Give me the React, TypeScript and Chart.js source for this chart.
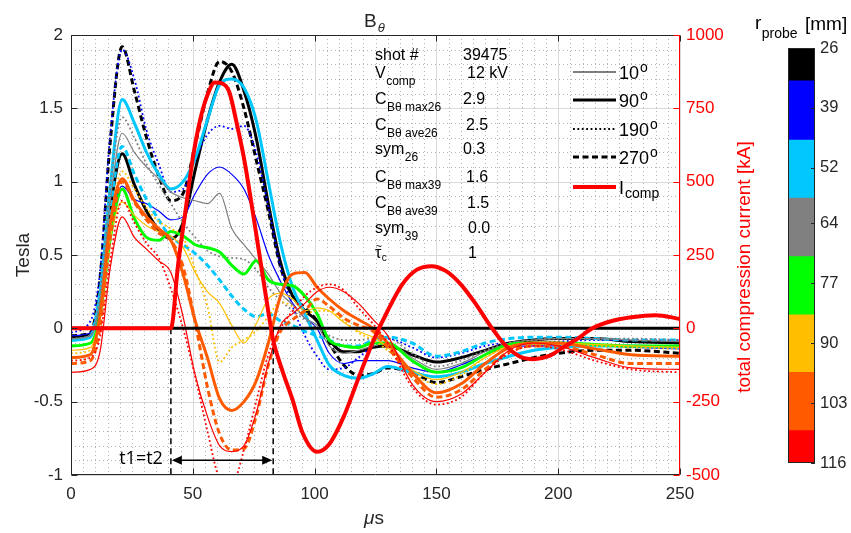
import React, { useEffect, useRef } from 'react';
import { Chart, registerables } from 'chart.js';

Chart.register(...registerables);

// ---------------- data ----------------
const T = [0, 8, 12, 16, 21, 26, 31, 36, 41, 46, 51, 56, 61, 66, 71, 76, 81, 86, 91, 96, 101, 106, 112, 118, 124, 130, 140, 150, 160, 170, 180, 190, 200, 215, 230, 250];

const K270 = [-0.05, -0.03, 0.35, 1.25, 1.92, 1.62, 1.3, 1.04, 0.87, 0.92, 1.25, 1.6, 1.82, 1.75, 1.5, 1.15, 0.8, 0.42, 0.22, 0.14, 0.05, -0.1, -0.25, -0.32, -0.31, -0.27, -0.3, -0.37, -0.33, -0.28, -0.24, -0.2, -0.17, -0.15, -0.15, -0.17];
const K90 = [-0.06, -0.04, 0.2, 0.8, 1.19, 0.98, 0.8, 0.67, 0.61, 0.72, 1.08, 1.42, 1.68, 1.8, 1.62, 1.3, 0.85, 0.45, 0.22, 0.12, 0.05, -0.08, -0.16, -0.16, -0.13, -0.12, -0.18, -0.23, -0.2, -0.15, -0.1, -0.08, -0.07, -0.07, -0.09, -0.1];
const B190 = [-0.03, 0.05, 0.4, 1.3, 1.9, 1.7, 1.35, 1.12, 0.93, 0.95, 1.15, 1.32, 1.38, 1.36, 1.38, 1.2, 0.83, 0.42, 0.15, -0.05, -0.19, -0.28, -0.27, -0.2, -0.12, -0.07, -0.13, -0.2, -0.17, -0.12, -0.1, -0.1, -0.09, -0.08, -0.08, -0.08];
const B10 = [-0.05, -0.03, 0.25, 0.7, 0.97, 0.88, 0.85, 0.8, 0.74, 0.76, 0.92, 1.05, 1.1, 1.05, 0.95, 0.75, 0.5, 0.32, 0.17, 0.07, 0.0, -0.17, -0.24, -0.22, -0.22, -0.22, -0.27, -0.3, -0.25, -0.18, -0.13, -0.12, -0.12, -0.12, -0.13, -0.14];
const C90 = [-0.08, -0.06, 0.25, 0.95, 1.56, 1.4, 1.2, 1.05, 0.95, 1.0, 1.16, 1.42, 1.66, 1.7, 1.64, 1.42, 1.0, 0.58, 0.28, 0.1, -0.08, -0.25, -0.32, -0.34, -0.31, -0.26, -0.3, -0.33, -0.3, -0.24, -0.19, -0.15, -0.13, -0.12, -0.12, -0.13];
const C270 = [-0.08, -0.05, 0.25, 0.8, 1.24, 1.05, 0.88, 0.74, 0.62, 0.57, 0.51, 0.43, 0.33, 0.22, 0.13, 0.08, 0.1, 0.05, 0.02, -0.02, -0.05, -0.08, -0.12, -0.12, -0.08, -0.06, -0.1, -0.19, -0.16, -0.1, -0.07, -0.06, -0.06, -0.07, -0.08, -0.08];
const G10 = [-0.07, -0.05, 0.2, 0.85, 1.33, 1.2, 1.1, 1.02, 0.93, 0.89, 0.87, 0.85, 0.92, 0.68, 0.57, 0.47, 0.37, 0.24, 0.16, 0.07, 0.02, -0.12, -0.17, -0.15, -0.12, -0.1, -0.2, -0.28, -0.24, -0.16, -0.1, -0.08, -0.07, -0.07, -0.08, -0.09];
const G190 = [-0.07, -0.05, 0.25, 0.95, 1.44, 1.3, 1.12, 0.98, 0.85, 0.72, 0.62, 0.53, 0.49, 0.48, 0.47, 0.4, 0.28, 0.19, 0.12, 0.06, 0.0, -0.05, -0.08, -0.08, -0.07, -0.07, -0.17, -0.26, -0.22, -0.15, -0.1, -0.08, -0.07, -0.07, -0.07, -0.08];
const E90 = [-0.12, -0.1, 0.1, 0.6, 0.95, 0.75, 0.62, 0.6, 0.66, 0.63, 0.57, 0.55, 0.52, 0.43, 0.37, 0.46, 0.33, 0.3, 0.29, 0.22, 0.1, -0.08, -0.12, -0.13, -0.1, -0.1, -0.22, -0.3, -0.27, -0.18, -0.11, -0.1, -0.1, -0.11, -0.12, -0.12];
const Y10 = [-0.15, -0.13, 0.1, 0.6, 0.86, 0.77, 0.7, 0.66, 0.63, 0.55, 0.38, 0.25, 0.17, 0.02, -0.1, 0.03, 0.2, 0.24, 0.2, 0.12, 0.14, 0.12, 0.04, -0.02, -0.06, -0.13, -0.28, -0.35, -0.3, -0.2, -0.12, -0.1, -0.1, -0.11, -0.12, -0.13];
const Y190 = [-0.17, -0.15, 0.1, 0.7, 1.07, 0.95, 0.82, 0.73, 0.68, 0.62, 0.4, 0.15, -0.23, -0.13, -0.08, -0.02, 0.08, 0.18, 0.15, 0.1, 0.12, 0.12, 0.05, -0.03, -0.08, -0.15, -0.3, -0.38, -0.32, -0.2, -0.12, -0.1, -0.11, -0.12, -0.13, -0.14];
const O90 = [-0.2, -0.18, 0.1, 0.7, 1.02, 0.87, 0.76, 0.68, 0.6, 0.37, 0.05, -0.2, -0.48, -0.56, -0.5, -0.36, -0.1, 0.22, 0.37, 0.38, 0.28, 0.2, 0.12, 0.06, 0.0, -0.1, -0.3, -0.44, -0.38, -0.24, -0.13, -0.1, -0.1, -0.14, -0.18, -0.19];
const O270 = [-0.24, -0.22, 0.02, 0.6, 1.0, 0.86, 0.74, 0.65, 0.6, 0.42, 0.04, -0.4, -0.72, -0.83, -0.82, -0.6, -0.25, -0.02, 0.06, 0.12, 0.2, 0.15, 0.07, 0.02, -0.02, -0.13, -0.33, -0.47, -0.42, -0.28, -0.16, -0.12, -0.12, -0.18, -0.24, -0.24];
const R10 = [-0.3, -0.28, -0.15, 0.4, 0.76, 0.62, 0.54, 0.46, 0.38, 0.08, -0.32, -0.6, -0.8, -0.84, -0.8, -0.58, -0.24, 0.02, 0.1, 0.17, 0.25, 0.28, 0.25, 0.17, 0.06, -0.05, -0.38, -0.5, -0.45, -0.3, -0.15, -0.1, -0.12, -0.2, -0.27, -0.28];
const R190 = [-0.22, -0.2, -0.05, 0.45, 0.87, 0.72, 0.58, 0.48, 0.27, 0.0, -0.33, -0.7, -1.02, -1.06, -0.83, -0.5, -0.18, 0.0, 0.12, 0.22, 0.28, 0.3, 0.26, 0.14, 0.03, -0.1, -0.4, -0.52, -0.47, -0.3, -0.17, -0.12, -0.14, -0.22, -0.28, -0.3];

// total compression current, kA
const I_T = [0, 41, 44, 47, 50, 53, 56, 59, 62, 65, 68, 71, 74, 77, 80, 83, 87, 91, 95, 101, 106, 112, 118, 124, 130, 136, 142, 148, 154, 160, 166, 172, 178, 184, 190, 196, 202, 208, 214, 222, 230, 240, 250];
const I_COMP = [0, 0, 220, 400, 580, 710, 795, 838, 835, 805, 700, 580, 430, 270, 110, -40, -150, -245, -355, -421, -395, -300, -170, -45, 60, 150, 200, 212, 195, 150, 85, 10, -55, -95, -105, -95, -65, -35, 0, 25, 38, 45, 32];

const ZERO_T = [0, 250];
const T_MARKS = [41, 83];
const ARROW_B = -0.9;

const X_TICKS = [0, 50, 100, 150, 200, 250];
const Y_TICKS = [-1, -0.5, 0, 0.5, 1, 1.5, 2];
const Y2_TICKS = [-500, -250, 0, 250, 500, 750, 1000];

const R_PROBE = [26, 39, 52, 64, 77, 90, 103, 116];
const CB_EDGES = [26, 33, 45.8, 58.4, 71.1, 83.7, 96.2, 108.8, 116];
const R_COLORS = ['#000000', '#0000ff', '#00c8ff', '#808080', '#00ff00', '#ffbf00', '#ff5a00', '#ff0000'];

const INFO_LABELS = ['shot #', 'V', 'C', 'C', 'sym', 'C', 'C', 'sym', '\u03c4'];
const INFO_SUBS = ['', 'comp', 'B\u03b8 max26', 'B\u03b8 ave26', '26', 'B\u03b8 max39', 'B\u03b8 ave39', '39', 'c'];
const INFO_VALUES = ['39475', '12 kV', '2.9', '2.5', '0.3', '1.6', '1.5', '0.0', '1'];

const LEGEND_LABELS = ['10', '90', '190', '270', 'I'];

// series: radius index, angle style, values
const SERIES = [
  { r: 0, a: '270', v: K270 }, { r: 0, a: '90', v: K90 },
  { r: 1, a: '190', v: B190 }, { r: 1, a: '10', v: B10 },
  { r: 2, a: '90', v: C90 }, { r: 2, a: '270', v: C270 },
  { r: 3, a: '10', v: G10 }, { r: 3, a: '190', v: G190 },
  { r: 4, a: '90', v: E90 },
  { r: 5, a: '10', v: Y10 }, { r: 5, a: '190', v: Y190 },
  { r: 6, a: '90', v: O90 }, { r: 6, a: '270', v: O270 },
  { r: 7, a: '10', v: R10 }, { r: 7, a: '190', v: R190 },
];

// ---------------- styles ----------------
const FONT = '"Liberation Sans", Arial, Helvetica, sans-serif';
const AX = '#262626';
const STYLE: Record<string, { w: number; dash: number[] }> = {
  '10': { w: 1.2, dash: [] },
  '90': { w: 3, dash: [] },
  '190': { w: 1.8, dash: [1.8, 2.6] },
  '270': { w: 3, dash: [6, 3.5] },
};

function txt(ctx: CanvasRenderingContext2D, s: string, x: number, y: number, size: number, italic = false) {
  ctx.font = `${italic ? 'italic ' : ''}${size}px ${FONT}`;
  ctx.fillText(s, x, y);
  return x + ctx.measureText(s).width;
}

const decor = {
  id: 'decor',
  beforeDatasetsDraw(chart: any) {
    const { ctx, chartArea: a, scales } = chart;
    const xs = scales.x, ys = scales.y;
    ctx.save();
    ctx.lineWidth = 1;
    ctx.strokeStyle = 'rgba(0,0,0,0.30)';
    ctx.setLineDash([1, 3]);
    ctx.beginPath();
    for (let t = 5; t < 250; t += 5) {
      if (t % 50 === 0) continue;
      const px = Math.round(xs.getPixelForValue(t)) + 0.5;
      ctx.moveTo(px, a.top); ctx.lineTo(px, a.bottom);
    }
    for (let k = -9; k < 20; k++) {
      if (k % 5 === 0) continue;
      const py = Math.round(ys.getPixelForValue(k / 10)) + 0.5;
      ctx.moveTo(a.left, py); ctx.lineTo(a.right, py);
    }
    ctx.stroke();
    ctx.setLineDash([]);
    ctx.strokeStyle = '#dadada';
    ctx.beginPath();
    X_TICKS.forEach((t) => {
      const px = Math.round(xs.getPixelForValue(t)) + 0.5;
      ctx.moveTo(px, a.top); ctx.lineTo(px, a.bottom);
    });
    Y_TICKS.forEach((v) => {
      const py = Math.round(ys.getPixelForValue(v)) + 0.5;
      ctx.moveTo(a.left, py); ctx.lineTo(a.right, py);
    });
    ctx.stroke();
    ctx.restore();
  },
  afterDatasetsDraw(chart: any) {
    const { ctx, chartArea: a, scales } = chart;
    const xs = scales.x, ys = scales.y, y2 = scales.y2;
    ctx.save();
    ctx.setLineDash([]);
    const L = a.left + 0.5, R = a.right - 0.5, Tp = a.top + 0.5, Bt = a.bottom - 0.5;
    ctx.lineWidth = 1;
    ctx.strokeStyle = AX;
    ctx.beginPath();
    ctx.moveTo(L, Tp); ctx.lineTo(R, Tp);
    ctx.moveTo(L, Tp); ctx.lineTo(L, Bt); ctx.lineTo(R, Bt);
    X_TICKS.forEach((t) => {
      const px = Math.round(xs.getPixelForValue(t)) + 0.5;
      ctx.moveTo(px, Bt); ctx.lineTo(px, Bt - 6);
      ctx.moveTo(px, Tp); ctx.lineTo(px, Tp + 6);
    });
    Y_TICKS.forEach((v) => {
      const py = Math.round(ys.getPixelForValue(v)) + 0.5;
      ctx.moveTo(L, py); ctx.lineTo(L + 6, py);
    });
    ctx.stroke();
    ctx.strokeStyle = '#ff0000';
    ctx.beginPath();
    ctx.moveTo(R, a.top); ctx.lineTo(R, a.bottom);
    Y2_TICKS.forEach((v) => {
      const py = Math.round(y2.getPixelForValue(v)) + 0.5;
      ctx.moveTo(R, py); ctx.lineTo(R - 6, py);
    });
    ctx.stroke();

    // arrow between t1 and t2
    const ax1 = xs.getPixelForValue(T_MARKS[0]);
    const ax2 = xs.getPixelForValue(T_MARKS[1]);
    const ay = ys.getPixelForValue(ARROW_B);
    ctx.strokeStyle = '#000';
    ctx.fillStyle = '#000';
    ctx.lineWidth = 1.5;
    ctx.beginPath(); ctx.moveTo(ax1 + 4, ay); ctx.lineTo(ax2 - 4, ay); ctx.stroke();
    ctx.beginPath();
    ctx.moveTo(ax1 + 1, ay); ctx.lineTo(ax1 + 11, ay - 4.5); ctx.lineTo(ax1 + 11, ay + 4.5); ctx.closePath();
    ctx.moveTo(ax2 - 1, ay); ctx.lineTo(ax2 - 11, ay - 4.5); ctx.lineTo(ax2 - 11, ay + 4.5); ctx.closePath();
    ctx.fill();
    ctx.font = '18px "Open Sans", sans-serif';
    ctx.textAlign = 'right';
    ctx.textBaseline = 'middle';
    ctx.fillText('t1=t2', ax1 - 8, ay - 1);

    // axis titles
    ctx.fillStyle = AX;
    ctx.textAlign = 'center';
    ctx.textBaseline = 'middle';
    ctx.font = `19px ${FONT}`;
    ctx.save(); ctx.translate(24, 255); ctx.rotate(-Math.PI / 2); ctx.fillText('Tesla', 0, 0); ctx.restore();
    ctx.fillStyle = '#ff0000';
    ctx.save(); ctx.translate(745, 267); ctx.rotate(-Math.PI / 2); ctx.fillText('total compression current [kA]', 0, 0); ctx.restore();

    ctx.textAlign = 'left';
    ctx.textBaseline = 'alphabetic';
    ctx.fillStyle = AX;
    let ex = txt(ctx, '\u03bc', 364, 524, 19, true);
    txt(ctx, 's', ex, 524, 19);
    // title
    ex = txt(ctx, 'B', 364, 27, 19);
    txt(ctx, '\u03b8', ex + 1, 32, 13, true);

    // info text
    ctx.fillStyle = '#000';
    const rowBase = [60, 78, 104, 130, 154, 182, 208, 233, 258];
    const valX = [463, 467, 463, 466, 463, 466, 467, 468, 468];
    INFO_LABELS.forEach((lab, i) => {
      const b = rowBase[i];
      if (i === INFO_LABELS.length - 1) {
        const e = txt(ctx, lab, 375, b, 16);
        txt(ctx, '~', 375.5, b - 8, 11);
        txt(ctx, INFO_SUBS[i], e + 0.5, b + 3, 10);
      } else {
        const e = txt(ctx, lab, 375, b, 16);
        if (INFO_SUBS[i]) txt(ctx, INFO_SUBS[i], e + 0.5, b + 7, 12);
      }
      txt(ctx, INFO_VALUES[i], valX[i], b, 16);
    });

    // line-style legend
    const legY = [72, 100, 129, 157, 187];
    const legStyles = [STYLE['10'], STYLE['90'], STYLE['190'], STYLE['270'], { w: 4, dash: [] }];
    LEGEND_LABELS.forEach((lab, i) => {
      const st = legStyles[i];
      ctx.strokeStyle = i === 4 ? '#ff0000' : '#000';
      ctx.lineWidth = st.w;
      ctx.setLineDash(st.dash);
      ctx.beginPath(); ctx.moveTo(573, legY[i]); ctx.lineTo(616, legY[i]); ctx.stroke();
      ctx.setLineDash([]);
      ctx.fillStyle = '#000';
      const e = txt(ctx, lab, 619, legY[i] + 7, 18);
      if (i < 4) txt(ctx, 'o', e + 1, legY[i], 14);
      else txt(ctx, 'comp', e + 1, legY[i] + 11, 14);
    });
    ctx.restore();
  },
};

const cbDecor = {
  id: 'cbDecor',
  afterDatasetsDraw(chart: any) {
    const { ctx, chartArea: a, scales } = chart;
    ctx.save();
    ctx.strokeStyle = AX;
    ctx.lineWidth = 1;
    ctx.strokeRect(a.left + 0.5, a.top + 0.5, a.right - a.left - 1, a.bottom - a.top - 1);
    ctx.beginPath();
    R_PROBE.forEach((v) => {
      const py = Math.round(scales.y.getPixelForValue(v)) + 0.5;
      ctx.moveTo(a.right - 4, py); ctx.lineTo(a.right, py);
    });
    ctx.stroke();
    ctx.fillStyle = '#000';
    ctx.textBaseline = 'alphabetic';
    ctx.textAlign = 'left';
    const e = txt(ctx, 'r', 15, 29, 19);
    txt(ctx, 'probe', e + 0.5, 38, 14);
    txt(ctx, '[mm]', 65, 30, 19);
    ctx.restore();
  },
};

export default function App() {
  const mainRef = useRef<HTMLCanvasElement>(null);
  const cbRef = useRef<HTMLCanvasElement>(null);

  useEffect(() => {
    const curveSets = SERIES.map((s, i) => ({
      label: `r${R_PROBE[s.r]} ${s.a}`,
      data: T.map((t, k) => ({ x: t, y: s.v[k] })),
      borderColor: R_COLORS[s.r],
      borderWidth: STYLE[s.a].w,
      borderDash: STYLE[s.a].dash,
      cubicInterpolationMode: 'monotone' as const,
      pointRadius: 0,
      yAxisID: 'y',
      order: 100 - i,
    }));
    const datasets: any[] = [
      {
        label: 'Icomp',
        data: I_T.map((t, k) => ({ x: t, y: I_COMP[k] })),
        borderColor: '#ff0000', borderWidth: 4, pointRadius: 0,
        cubicInterpolationMode: 'monotone', yAxisID: 'y2', order: 0,
      },
      {
        label: 'zero',
        data: ZERO_T.map((t) => ({ x: t, y: 0 })),
        borderColor: '#000', borderWidth: 3, pointRadius: 0, yAxisID: 'y', order: 1,
      },
      ...T_MARKS.map((t) => ({
        label: 't' + t,
        data: [{ x: t, y: 0 }, { x: t, y: Y_TICKS[0] }],
        borderColor: '#000', borderWidth: 1.5, borderDash: [6, 4], pointRadius: 0, yAxisID: 'y', order: 1,
      })),
      ...curveSets,
    ];

    const tickFont = { family: FONT, size: 17 };
    const noGrid = { display: false, drawTicks: false, tickLength: 0 };
    const main = new Chart(mainRef.current!, {
      type: 'line',
      data: { datasets },
      options: {
        animation: false,
        responsive: false,
        devicePixelRatio: 1,
        layout: { padding: { top: 35, left: 0, right: 0, bottom: 0 } },
        plugins: { legend: { display: false }, tooltip: { enabled: false }, title: { display: false } },
        scales: {
          x: {
            type: 'linear', min: 0, max: 250,
            afterBuildTicks: (s: any) => { s.ticks = X_TICKS.map((v) => ({ value: v })); },
            afterFit: (s: any) => { s.height = 58; },
            grid: noGrid, border: { display: false },
            ticks: { font: tickFont, color: AX, padding: 9, maxRotation: 0, autoSkip: false, callback: (v: any) => String(v) },
          },
          y: {
            type: 'linear', position: 'left', min: -1, max: 2,
            afterBuildTicks: (s: any) => { s.ticks = Y_TICKS.map((v) => ({ value: v })); },
            afterFit: (s: any) => { s.width = 71; },
            grid: noGrid, border: { display: false },
            ticks: { font: tickFont, color: AX, padding: 8, autoSkip: false, callback: (v: any) => String(v) },
          },
          y2: {
            type: 'linear', position: 'right', min: -500, max: 1000,
            afterBuildTicks: (s: any) => { s.ticks = Y2_TICKS.map((v) => ({ value: v })); },
            afterFit: (s: any) => { s.width = 171; },
            grid: noGrid, border: { display: false },
            ticks: { font: tickFont, color: '#ff0000', padding: 6, autoSkip: false, callback: (v: any) => String(v) },
          },
        },
      } as any,
      plugins: [decor],
    });

    const cb = new Chart(cbRef.current!, {
      type: 'bar',
      data: {
        labels: ['r'],
        datasets: R_COLORS.map((c, i) => ({
          label: String(R_PROBE[i]),
          data: [[CB_EDGES[i], CB_EDGES[i + 1]]],
          backgroundColor: c,
          borderWidth: 0,
          barPercentage: 1,
          categoryPercentage: 1,
          grouped: false,
        })),
      } as any,
      options: {
        animation: false,
        responsive: false,
        devicePixelRatio: 1,
        layout: { padding: { top: 48, left: 48, right: 0, bottom: 70 } },
        plugins: { legend: { display: false }, tooltip: { enabled: false } },
        scales: {
          x: { display: false },
          y: {
            type: 'linear', position: 'right', min: 26, max: 116, reverse: true,
            afterBuildTicks: (s: any) => { s.ticks = R_PROBE.map((v) => ({ value: v })); },
            afterFit: (s: any) => { s.width = 36; },
            grid: noGrid, border: { display: false },
            ticks: { font: { family: FONT, size: 16.5 }, color: AX, padding: 5, autoSkip: false, callback: (v: any) => String(v) },
          },
        },
      } as any,
      plugins: [cbDecor],
    });

    return () => { main.destroy(); cb.destroy(); };
  }, []);

  return (
    <div style={{ position: 'fixed', left: 0, top: 0, width: 851, height: 533, background: '#fff' }}>
      <canvas ref={mainRef} width={851} height={533} style={{ position: 'absolute', left: 0, top: 0, width: 851, height: 533 }} />
      <canvas ref={cbRef} width={111} height={533} style={{ position: 'absolute', left: 740, top: 0, width: 111, height: 533 }} />
    </div>
  );
}
